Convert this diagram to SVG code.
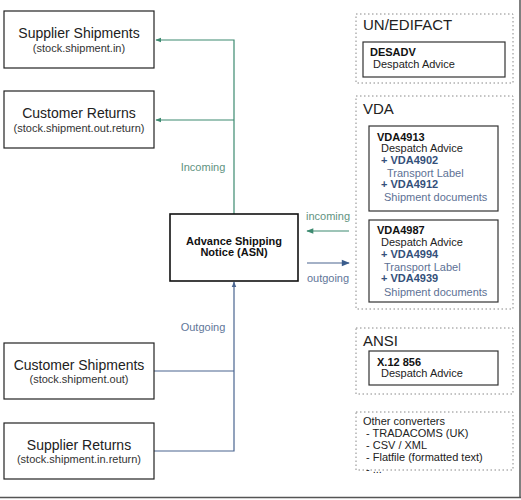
<svg xmlns="http://www.w3.org/2000/svg" width="521" height="500" viewBox="0 0 521 500">
<style>
text{font-family:"Liberation Sans",Arial,sans-serif;fill:#222}
.node{fill:#fff;stroke:#222;stroke-width:1.2}
.asn{fill:#fff;stroke:#111;stroke-width:1.6}
.t{font-size:14px;text-anchor:middle}
.s{font-size:11px;text-anchor:middle;fill:#333}
.b{font-size:11px;font-weight:bold;text-anchor:middle;fill:#111}
.grp{fill:none;stroke:#888;stroke-width:1;stroke-dasharray:1.5 2.5}
.gt{font-size:15px;fill:#222}
.box{fill:#fff;stroke:#333;stroke-width:1.2}
.l{font-size:11px;fill:#222}
.lb{font-size:11px;font-weight:bold;fill:#111}
.pb{font-size:11px;font-weight:bold;fill:#34507a}
.pl{font-size:11px;fill:#5d7195}
.g{fill:none;stroke:#3d8a70;stroke-width:1.2}
.bl{fill:none;stroke:#4a6590;stroke-width:1.2}
.gl{font-size:11px;fill:#5f9381;text-anchor:middle}
.bll{font-size:11px;fill:#5f7699;text-anchor:middle}
</style>
<defs>
<marker id="ag" viewBox="0 0 10 10" refX="9" refY="5" markerWidth="6" markerHeight="6" orient="auto-start-reverse" markerUnits="userSpaceOnUse"><path d="M0,1 L10,5 L0,9 Z" fill="#3d8a70"/></marker>
<marker id="ab" viewBox="0 0 10 10" refX="9" refY="5" markerWidth="6" markerHeight="6" orient="auto-start-reverse" markerUnits="userSpaceOnUse"><path d="M0,1 L10,5 L0,9 Z" fill="#4a6590"/></marker>
<marker id="abL" viewBox="0 0 10 10" refX="9" refY="5" markerWidth="10" markerHeight="8" orient="auto" markerUnits="userSpaceOnUse"><path d="M0,1 L10,5 L0,9 Z" fill="#3a5c8c"/></marker>
<marker id="agL" viewBox="0 0 10 10" refX="9" refY="5" markerWidth="10" markerHeight="7" orient="auto" markerUnits="userSpaceOnUse"><path d="M0,1 L10,5 L0,9 Z" fill="#3d8a70"/></marker>
</defs>
<rect x="0" y="0" width="521" height="500" fill="#fff"/>
<line x1="520" y1="0" x2="520" y2="498" stroke="#555" stroke-width="1.5"/>
<line x1="0" y1="497.5" x2="521" y2="497.5" stroke="#555" stroke-width="1.5"/>

<g id="connectors">
<path class="g" d="M234,214 V40 H156" marker-end="url(#ag)"/>
<path class="g" d="M234,120 H156" marker-end="url(#ag)"/>
<text class="gl" x="203" y="171">Incoming</text>
<path class="bl" d="M154,451 H234 V282" marker-end="url(#ab)"/>
<path class="bl" d="M154,371 H234"/>
<text class="bll" x="203" y="331">Outgoing</text>
<path class="g" d="M349,231 H307" marker-end="url(#agL)"/>
<text class="gl" x="328" y="220">incoming</text>
<path class="bl" d="M307,263 H349" marker-end="url(#abL)"/>
<text class="bll" x="328" y="282">outgoing</text>
</g>

<g id="supplier-shipments">
<rect class="node" x="4" y="11" width="150" height="57"/>
<text class="t" x="79" y="38">Supplier Shipments</text>
<text class="s" x="79" y="52">(stock.shipment.in)</text>
</g>
<g id="customer-returns">
<rect class="node" x="4" y="91" width="150" height="57"/>
<text class="t" x="79" y="118">Customer Returns</text>
<text class="s" x="79" y="132">(stock.shipment.out.return)</text>
</g>
<g id="customer-shipments">
<rect class="node" x="4" y="343" width="150" height="56"/>
<text class="t" x="79" y="370">Customer Shipments</text>
<text class="s" x="79" y="383">(stock.shipment.out)</text>
</g>
<g id="supplier-returns">
<rect class="node" x="4" y="423" width="150" height="56"/>
<text class="t" x="79" y="450">Supplier Returns</text>
<text class="s" x="79" y="463">(stock.shipment.in.return)</text>
</g>
<g id="asn">
<rect class="asn" x="170" y="214" width="128" height="67"/>
<text class="b" x="234" y="245">Advance Shipping</text>
<text class="b" x="234" y="256">Notice (ASN)</text>
</g>

<g id="un-edifact">
<rect class="grp" x="356" y="14" width="157" height="69"/>
<text class="gt" x="363" y="30">UN/EDIFACT</text>
<g id="desadv">
<rect class="box" x="363" y="42" width="142" height="35"/>
<text class="lb" x="370" y="56">DESADV</text>
<text class="l" x="373" y="68">Despatch Advice</text>
</g>
</g>

<g id="vda">
<rect class="grp" x="356" y="96" width="157" height="213"/>
<text class="gt" x="363" y="114">VDA</text>
<g id="vda4913">
<rect class="box" x="369" y="126" width="129" height="85"/>
<text class="lb" x="377" y="141">VDA4913</text>
<text class="l" x="381" y="152">Despatch Advice</text>
<text class="pb" x="381" y="164">+ VDA4902</text>
<text class="pl" x="387" y="177">Transport Label</text>
<text class="pb" x="381" y="188">+ VDA4912</text>
<text class="pl" x="384" y="201">Shipment documents</text>
</g>
<g id="vda4987">
<rect class="box" x="369" y="220" width="129" height="82"/>
<text class="lb" x="377" y="234">VDA4987</text>
<text class="l" x="381" y="246">Despatch Advice</text>
<text class="pb" x="381" y="258">+ VDA4994</text>
<text class="pl" x="384" y="271">Transport Label</text>
<text class="pb" x="381" y="282">+ VDA4939</text>
<text class="pl" x="384" y="296">Shipment documents</text>
</g>
</g>

<g id="ansi">
<rect class="grp" x="356" y="328" width="157" height="66"/>
<text class="gt" x="363" y="346">ANSI</text>
<g id="x12-856">
<rect class="box" x="369" y="351" width="129" height="34"/>
<text class="lb" x="377" y="366">X.12 856</text>
<text class="l" x="381" y="377">Despatch Advice</text>
</g>
</g>

<g id="other-converters">
<rect class="grp" x="356" y="412" width="157" height="58"/>
<text class="l" x="363" y="425">Other converters</text>
<text class="l" x="366" y="437">- TRADACOMS (UK)</text>
<text class="l" x="366" y="449">- CSV / XML</text>
<text class="l" x="366" y="461">- Flatfile (formatted text)</text>
<text class="l" x="366" y="473">- ...</text>
</g>
</svg>
